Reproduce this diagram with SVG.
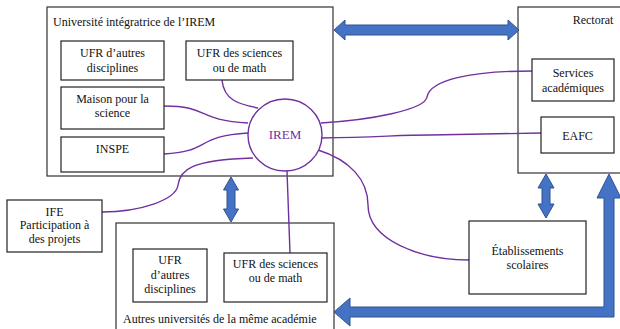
<svg xmlns="http://www.w3.org/2000/svg" width="620" height="329" viewBox="0 0 620 329">
<style>
.box{fill:#fff;stroke:#222;stroke-width:1.2}
.grp{fill:none;stroke:#333;stroke-width:1.2}
.t{font-family:"Liberation Serif","Times New Roman",serif;font-size:12px;fill:#111;text-anchor:middle}
.tl{font-family:"Liberation Serif","Times New Roman",serif;font-size:12px;fill:#111}
.arr{fill:#4472C4;stroke:#2F528F;stroke-width:1}
.c{fill:none;stroke:#7030A0;stroke-width:1.4}
</style>
<rect width="620" height="329" fill="#fff"/>
<g id="universite">
<rect class="grp" x="47" y="7" width="286" height="169"/>
<text class="tl" x="53" y="26">Université intégratrice de l’IREM</text>
</g>
<g id="rectorat">
<rect class="grp" x="518" y="7" width="108" height="166"/>
<text class="t" x="593" y="24">Rectorat</text>
</g>
<g id="autres-universites">
<rect class="grp" x="116" y="223" width="218" height="115"/>
<text class="tl" x="123" y="323">Autres universités de la même académie</text>
</g>
<g id="arrows">
<polygon class="arr" points="334,30 345,20 345,25 508,25 508,20 519,30 508,40 508,35 345,35 345,40"/>
<polygon class="arr" points="231,177 238.5,190 235,190 235,209 238.5,209 231,222 223.5,209 227,209 227,190 223.5,190"/>
<polygon class="arr" points="546,174 554,188 550,188 550,204 554,204 546,218 538,204 542,204 542,188 538,188"/>
<polygon class="arr" points="334,312 350,298 350,307 604,307 604,198 597,198 609,174 621,198 614,198 614,317 350,317 350,326"/>
</g>
<g id="connectors">
<path class="c" d="M222,80 C224,100 238,104 258,108"/>
<path class="c" d="M164,106 C210,106 195,120 248,123"/>
<path class="c" d="M164,154 C210,152 195,136 248,133"/>
<path class="c" d="M253,158 C190,160 180,170 178,185 C176,200 140,212 102,212"/>
<path class="c" d="M287,171 L290,253"/>
<path class="c" d="M318,150 C350,160 368,180 368,205 C368,240 420,260 469,260"/>
<path class="c" d="M321,123 C370,120 425,110 427,97 C430,80 470,71 532,71"/>
<path class="c" d="M322,138 C380,137 400,135 430,135 L541,133"/>
</g>
<g id="ufr-autres">
<rect class="box" x="61" y="41" width="103" height="39"/>
<text class="t" x="112.5" y="57">UFR d’autres</text>
<text class="t" x="112.5" y="72">disciplines</text>
</g>
<g id="ufr-sciences">
<rect class="box" x="186" y="41" width="107" height="39"/>
<text class="t" x="239.5" y="57">UFR des sciences</text>
<text class="t" x="239.5" y="72">ou de math</text>
</g>
<g id="maison">
<rect class="box" x="61" y="87" width="103" height="42"/>
<text class="t" x="112.5" y="103">Maison pour la</text>
<text class="t" x="112.5" y="117">science</text>
</g>
<g id="inspe">
<rect class="box" x="61" y="137" width="103" height="35"/>
<text class="t" x="112.5" y="153">INSPE</text>
</g>
<g id="irem">
<ellipse cx="285" cy="135" rx="37" ry="36" fill="#fff" stroke="#7030A0" stroke-width="1.4"/>
<text class="t" x="285" y="139" style="fill:#7030A0;font-size:13px">IREM</text>
</g>
<g id="services">
<rect class="box" x="532" y="59" width="82" height="42"/>
<text class="t" x="573" y="77">Services</text>
<text class="t" x="573" y="92">académiques</text>
</g>
<g id="eafc">
<rect class="box" x="541" y="117" width="73" height="36"/>
<text class="t" x="577.5" y="140">EAFC</text>
</g>
<g id="ife">
<rect class="box" x="7" y="200" width="95" height="52"/>
<text class="t" x="54.5" y="216">IFE</text>
<text class="t" x="54.5" y="229">Participation à</text>
<text class="t" x="54.5" y="243">des projets</text>
</g>
<g id="ufr-autres-2">
<rect class="box" x="133" y="249" width="74" height="53"/>
<text class="t" x="170" y="264">UFR</text>
<text class="t" x="170" y="279">d’autres</text>
<text class="t" x="170" y="293">disciplines</text>
</g>
<g id="ufr-sciences-2">
<rect class="box" x="224" y="253" width="103" height="49"/>
<text class="t" x="275.5" y="268">UFR des sciences</text>
<text class="t" x="275.5" y="282">ou de math</text>
</g>
<g id="etablissements">
<rect class="box" x="469" y="221" width="117" height="73"/>
<text class="t" x="527.5" y="255">Établissements</text>
<text class="t" x="527.5" y="269">scolaires</text>
</g>
</svg>
